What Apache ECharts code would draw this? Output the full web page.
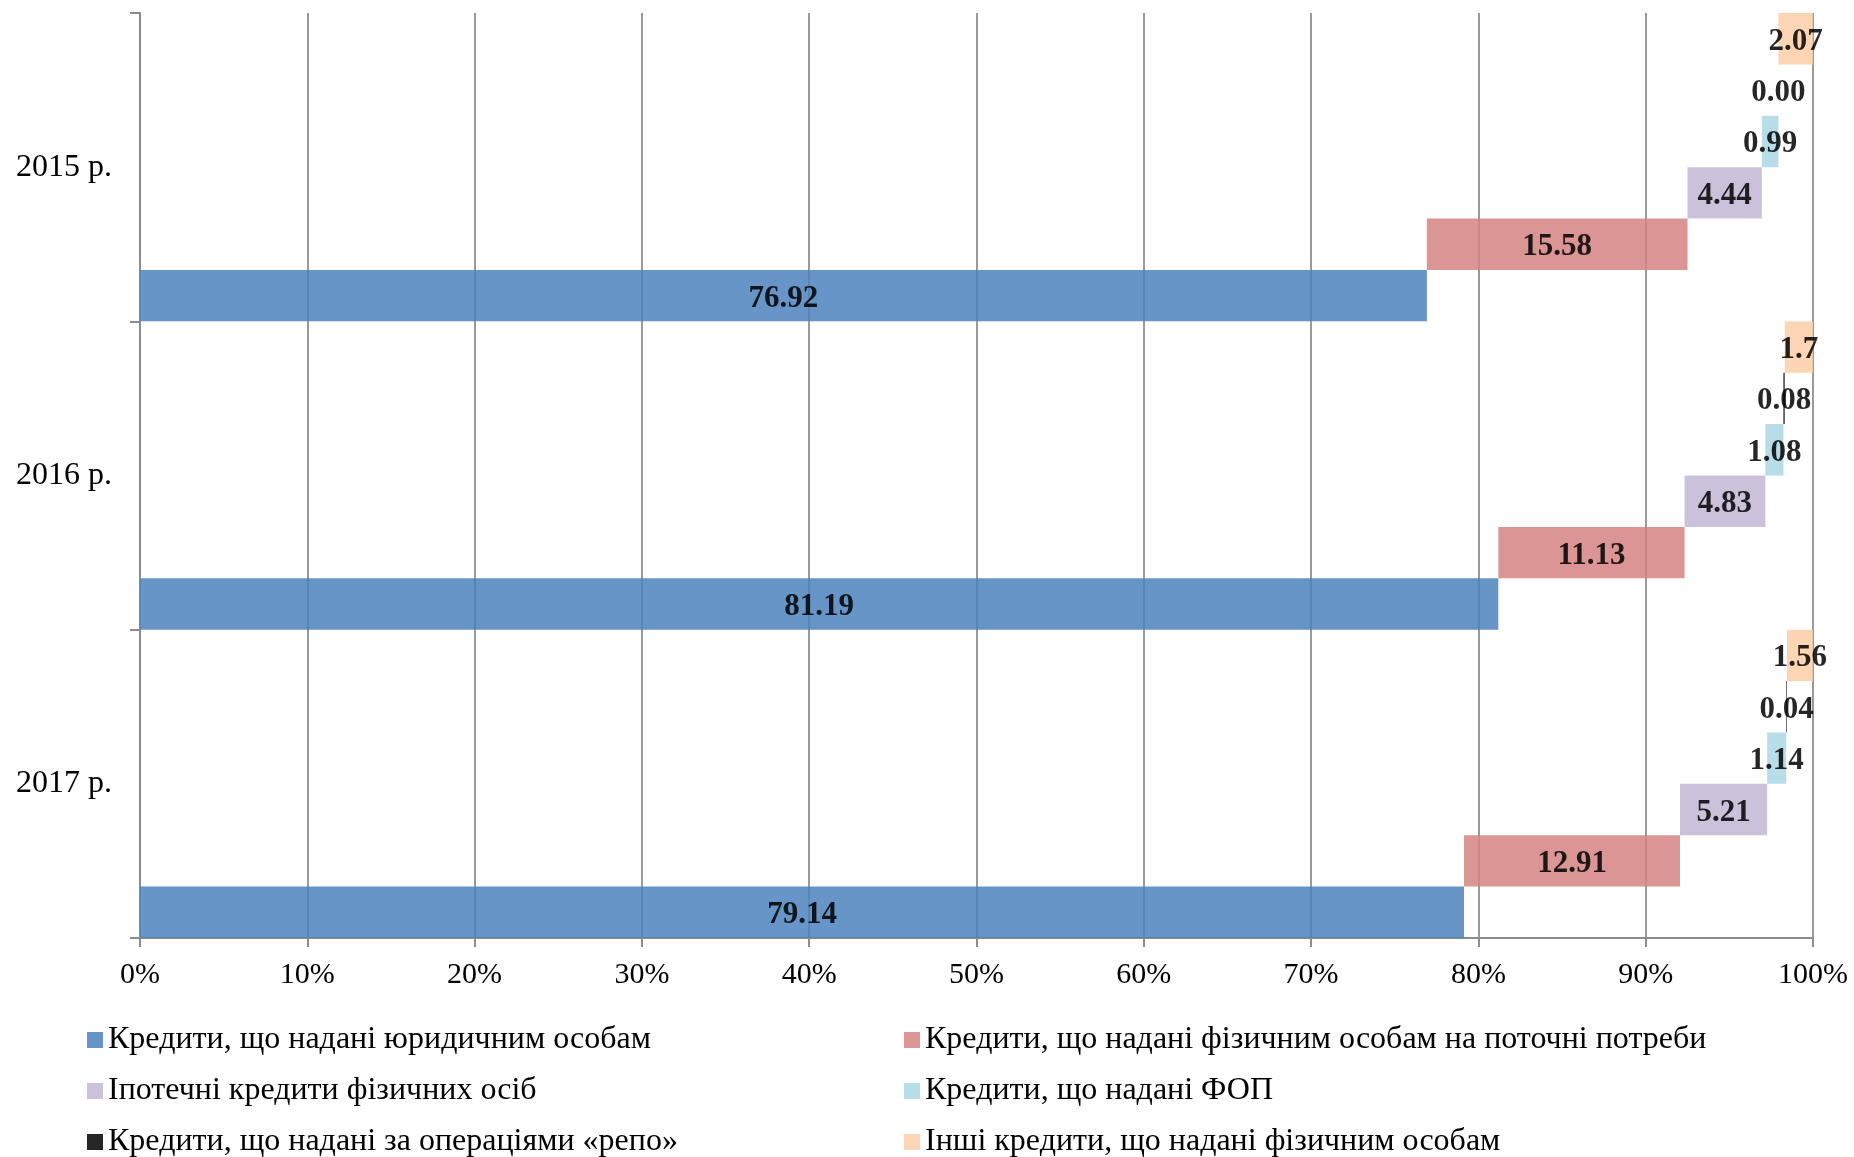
<!DOCTYPE html>
<html>
<head>
<meta charset="utf-8">
<script src="https://cdn.jsdelivr.net/npm/echarts@6/dist/echarts.min.js"></script>
<style>
  html, body { margin: 0; padding: 0; background: #ffffff; }
  #chart { width: 1854px; height: 1157px; }
</style>
</head>
<body>
<div id="chart"></div>
<script>
// Structure of bank loan portfolio, % of total
const years = ['2015 р.', '2016 р.', '2017 р.'];

const seriesNames = [
  'Кредити, що надані юридичним особам',
  'Кредити, що надані фізичним особам на поточні потреби',
  'Іпотечні кредити фізичних осіб',
  'Кредити, що надані ФОП',
  'Кредити, що надані за операціями «репо»',
  'Інші кредити, що надані фізичним особам'
];

const legalEntities   = [76.92, 81.19, 79.14];
const consumerLoans   = [15.58, 11.13, 12.91];
const mortgageLoans   = [4.44, 4.83, 5.21];
const entrepreneurs   = [0.99, 1.08, 1.14];
const repoLoans       = [0.00, 0.08, 0.04];
const otherPersonal   = [2.07, 1.7, 1.56];

const xTickStep = 10;

const seriesValues = [legalEntities, consumerLoans, mortgageLoans, entrepreneurs, repoLoans, otherPersonal];

// fill colours (drawn at 85% opacity so gridlines show through)
const colors = ['#4c82be', '#d38381', '#c3b6d3', '#aad7e4', '#000000', '#fccea8'];

const serifFont = '"Liberation Serif", "Times New Roman", serif';

// Each series sits in its own slot of the category band and starts where
// the previous one ended: a transparent spacer + the visible segment.
// Slots are created last-first so the first series ends up at the bottom of a band.
const series = [];
for (let i = seriesValues.length - 1; i >= 0; i--) {
  const vals = seriesValues[i];
  const start = years.map((_, j) => {
    let s = 0;
    for (let k = 0; k < i; k++) s += seriesValues[k][j];
    return +s.toFixed(4);
  });
  series.push({
    type: 'bar',
    name: '_spacer' + i,
    stack: 'slot' + i,
    data: start,
    itemStyle: { color: 'rgba(0,0,0,0)' },
    silent: true,
    emphasis: { disabled: true },
    label: { show: false },
    barGap: '0%',
    barCategoryGap: '0%'
  });
  series.push({
    type: 'bar',
    name: seriesNames[i],
    stack: 'slot' + i,
    data: vals,
    itemStyle: { color: colors[i], opacity: 0.85 },
    emphasis: { disabled: true },
    barGap: '0%',
    barCategoryGap: '0%',
    label: {
      show: true,
      position: 'inside',
      offset: [0, 3],
      color: '#000',
      fontFamily: serifFont,
      fontWeight: 'bold',
      fontSize: 31,
      formatter: p => (p.value === 0 ? p.value.toFixed(2) : String(p.value))
    }
  });
}

const legendText = { fontFamily: serifFont, fontSize: 32, color: '#000', lineHeight: 32 };

const legendCommon = {
  orient: 'vertical',
  top: 1019,
  height: 200,
  itemWidth: 16,
  itemHeight: 16,
  itemGap: 19,
  icon: 'rect',
  selectedMode: false,
  textStyle: legendText
};

const option = {
  animation: false,
  backgroundColor: '#ffffff',
  grid: { left: 140, right: 41, top: 13, bottom: 219, containLabel: false },
  xAxis: {
    type: 'value',
    min: 0,
    max: 100,
    interval: xTickStep,
    axisLine: { show: true, lineStyle: { color: '#8c8c8c', width: 2 } },
    axisTick: { show: true, length: 9, lineStyle: { color: '#8c8c8c', width: 2 } },
    splitLine: { show: true, lineStyle: { color: '#9a9a9a', width: 2 } },
    axisLabel: {
      formatter: '{value}%',
      color: '#000',
      fontFamily: serifFont,
      fontSize: 30,
      margin: 22
    }
  },
  yAxis: {
    type: 'category',
    data: years,
    inverse: true,
    axisLine: { show: true, lineStyle: { color: '#8c8c8c', width: 2 } },
    axisTick: { show: true, length: 10, lineStyle: { color: '#8c8c8c', width: 2 } },
    axisLabel: {
      color: '#000',
      fontFamily: serifFont,
      fontSize: 32,
      margin: 28
    },
    splitLine: { show: false }
  },
  legend: [
    Object.assign({}, legendCommon, {
      left: 82,
      data: [seriesNames[0], seriesNames[2], seriesNames[4]]
    }),
    Object.assign({}, legendCommon, {
      left: 899,
      data: [seriesNames[1], seriesNames[3], seriesNames[5]]
    })
  ],
  series: series
};

const chart = echarts.init(document.getElementById('chart'), null, { renderer: 'canvas' });
chart.setOption(option);
</script>
</body>
</html>
